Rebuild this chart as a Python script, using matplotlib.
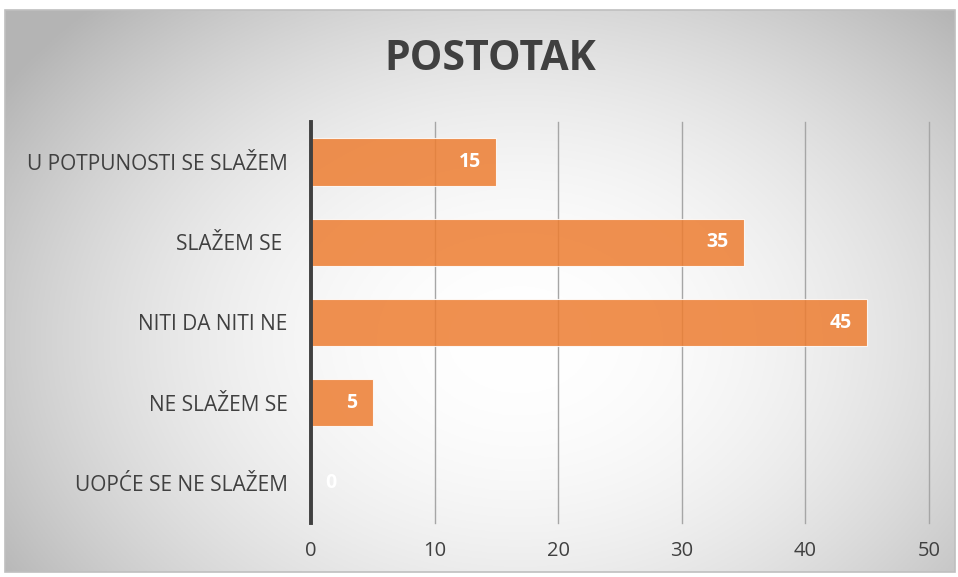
import numpy as np
import matplotlib
matplotlib.use("Agg")
import matplotlib.pyplot as plt
from matplotlib.patches import Rectangle

categories = ["U POTPUNOSTI SE SLAŽEM", "SLAŽEM SE ", "NITI DA NITI NE", "NE SLAŽEM SE", "UOPĆE SE NE SLAŽEM"]
values = [15, 35, 45, 5, 0]
x_ticks = [0, 10, 20, 30, 40, 50]

W, H = 958, 577
plt.rcParams["font.family"] = ["Open Sans", "DejaVu Sans"]
fig = plt.figure(figsize=(W / 100, H / 100), dpi=100)

# chart frame with radial gradient background
bx0, by0, bx1, by1 = 5, 10, 955, 572
bg = fig.add_axes([bx0 / W, 1 - by1 / H, (bx1 - bx0) / W, (by1 - by0) / H])
gx, gy = np.meshgrid(np.linspace(bx0, bx1, 400), np.linspace(by0, by1, 240))
r = np.hypot((gx - 520) / 560, (gy - 340) / 420)
shade = 1.0 - 0.24 * np.clip(r, 0, 1.1) ** 2.0
bg.imshow(np.dstack([shade] * 3), extent=[0, 1, 0, 1], aspect="auto", origin="upper")
bg.set_axis_off()
bg.add_patch(Rectangle((0, 0), 1, 1, transform=bg.transAxes, fill=False,
                       edgecolor="#bfbfbf", linewidth=1.2, clip_on=False))

fig.text(490 / W, 1 - 60 / H, "POSTOTAK", ha="center", va="center",
         fontsize=29.5, fontweight="bold", color="#404040")

ax = fig.add_axes([311 / W, 1 - 523 / H, (929 - 311) / W, (523 - 122) / H])
ax.patch.set_alpha(0)
ypos = np.arange(len(categories))
ax.barh(ypos, values, height=0.59, color="#ED7D31", alpha=0.85,
        edgecolor="white", linewidth=0.8, zorder=3)
for y, v in zip(ypos, values):
    if v > 0:
        ax.annotate(str(v), (v, y), xytext=(-11, 0), textcoords="offset points",
                    ha="right", va="center", color="white", fontsize=14,
                    fontweight="bold", zorder=4)
    else:
        ax.annotate(str(v), (v, y), xytext=(10, 0), textcoords="offset points",
                    ha="left", va="center", color="white", fontsize=14,
                    fontweight="bold", zorder=4)

ax.set_xlim(0, 50)
ax.set_ylim(len(categories) - 0.5, -0.5)
ax.set_xticks(x_ticks)
ax.set_yticks(ypos)
ax.set_yticklabels(categories)
ax.tick_params(axis="both", length=0, labelcolor="#404040")
ax.tick_params(axis="y", pad=17, labelsize=15)
ax.tick_params(axis="x", pad=13, labelsize=14.5)
ax.grid(axis="x", color="#a6a6a6", linewidth=1.0, zorder=1)
for gl in ax.get_xgridlines():
    gl.set_clip_on(False)
for s in ["top", "right", "bottom"]:
    ax.spines[s].set_visible(False)
ax.spines["left"].set_color("#404040")
ax.spines["left"].set_linewidth(2.8)
ax.spines["left"].set_zorder(5)

fig.savefig("out.png", dpi=100)
